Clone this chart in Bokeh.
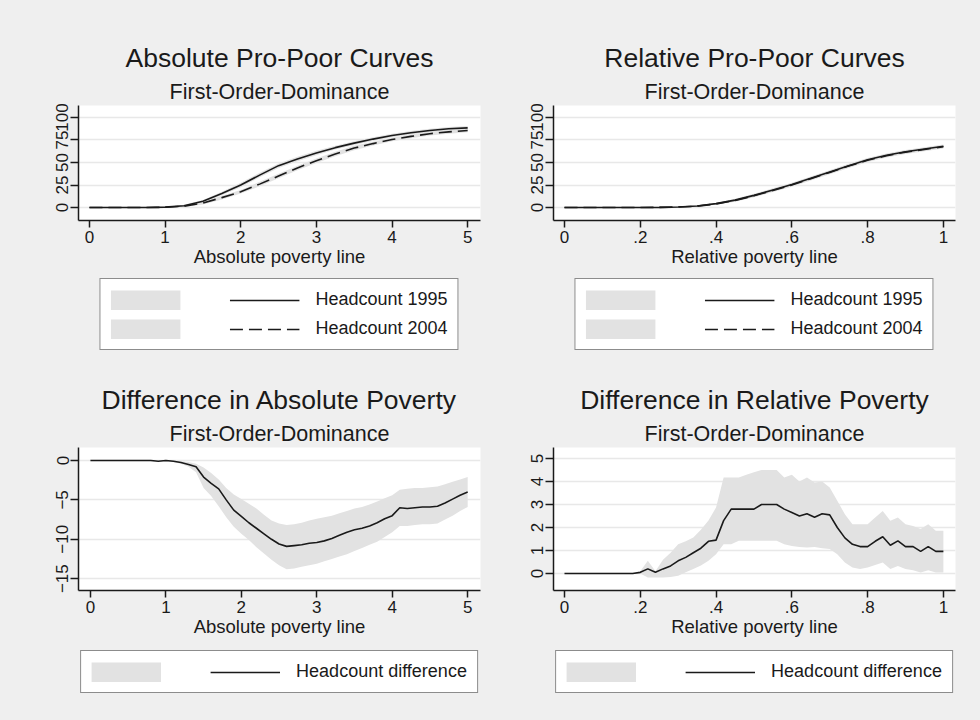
from bokeh.plotting import figure
from bokeh.models import Range1d, FixedTicker, Legend, LegendItem, Title
from bokeh.layouts import row, column
from bokeh.core.properties import value
from bokeh.embed import file_html
from bokeh.resources import INLINE
from jinja2 import Template

# ---------------- data ----------------
abs_x = [0.0, 0.25, 0.5, 0.75, 1.0, 1.25, 1.5, 1.75, 2.0, 2.25, 2.5, 2.75,
         3.0, 3.25, 3.5, 3.75, 4.0, 4.25, 4.5, 4.75, 5.0]
abs_hc1995 = [0, 0, 0, 0.1, 0.5, 2, 7, 15.5, 25, 36, 46.5, 54, 60.5, 66.5, 71.5, 76, 80, 83, 85.5, 87.5, 88.5]
abs_lo1995 = [0, 0, 0, 0, 0.2, 1, 5.5, 13.5, 22.5, 33.5, 44, 51.5, 58, 64.5, 69.5, 74, 78, 81, 83.5, 85.5, 86.5]
abs_hi1995 = [0, 0, 0, 0.2, 0.8, 3, 8.5, 17.5, 27.5, 38.5, 49, 56.5, 63, 68.5, 73.5, 78, 82, 85, 87.5, 89.5, 90.5]
abs_hc2004 = [0, 0, 0, 0, 0.3, 1.5, 5, 11, 17.5, 26, 35, 44, 52, 59.5, 66, 71, 75.5, 79, 82, 84, 85.5]
abs_lo2004 = [0, 0, 0, 0, 0.1, 0.7, 3.5, 9, 15.5, 23.5, 32.5, 41.5, 49.5, 57, 63.5, 69, 73.5, 77, 80, 82, 83.5]
abs_hi2004 = [0, 0, 0, 0.1, 0.5, 2.3, 6.5, 13, 19.5, 28.5, 37.5, 46.5, 54.5, 62, 68.5, 73, 77.5, 81, 84, 86, 87.5]

rel_x = [0.0, 0.05, 0.1, 0.15, 0.2, 0.25, 0.3, 0.35, 0.4, 0.45, 0.5, 0.55,
         0.6, 0.65, 0.7, 0.75, 0.8, 0.85, 0.9, 0.95, 1.0]
rel_hc1995 = [0, 0, 0, 0, 0, 0.2, 0.6, 1.7, 4.3, 8.2, 13.5, 19.5, 25.5, 32.5, 39.5, 46.5, 53, 58, 62, 65, 68]
rel_lo1995 = [0, 0, 0, 0, 0, 0.1, 0.4, 1.2, 3.3, 6.7, 11.8, 17.7, 23.5, 30.5, 37.5, 44.5, 51, 56, 60, 63, 66]
rel_hi1995 = [0, 0, 0, 0, 0, 0.3, 0.8, 2.2, 5.3, 9.7, 15.2, 21.3, 27.5, 34.5, 41.5, 48.5, 55, 60, 64, 67, 70]
rel_hc2004 = [0, 0, 0, 0, 0, 0.2, 0.5, 1.5, 4, 7.8, 13, 19, 25, 32, 39, 46, 52.5, 57.5, 61.5, 64.5, 67.5]
rel_lo2004 = [0, 0, 0, 0, 0, 0.1, 0.3, 1.0, 3.0, 6.3, 11.3, 17.2, 23, 30, 37, 44, 50.5, 55.5, 59.5, 62.5, 65.5]
rel_hi2004 = [0, 0, 0, 0, 0, 0.3, 0.8, 2.0, 5.0, 9.3, 14.7, 20.8, 27, 34, 41, 48, 54.5, 59.5, 63.5, 66.5, 69.5]

dabs_x = [0.0, 0.1, 0.2, 0.3, 0.4, 0.5, 0.6, 0.7, 0.8, 0.9, 1.0, 1.1, 1.2, 1.3, 1.4,
          1.5, 1.6, 1.7, 1.8, 1.9, 2.0, 2.1, 2.2, 2.3, 2.4, 2.5, 2.6, 2.7, 2.8, 2.9,
          3.0, 3.1, 3.2, 3.3, 3.4, 3.5, 3.6, 3.7, 3.8, 3.9, 4.0, 4.1, 4.2, 4.3, 4.4,
          4.5, 4.6, 4.7, 4.8, 4.9, 5.0]
dabs_diff = [0, 0, 0, 0, 0, 0, 0, 0, 0, -0.1, 0,
             -0.1, -0.25, -0.5, -0.8, -2.1, -2.9, -3.6, -5.0, -6.3, -7.1,
             -7.9, -8.6, -9.3, -10.0, -10.6, -10.9, -10.8, -10.7, -10.5, -10.4,
             -10.2, -9.9, -9.5, -9.1, -8.8, -8.6, -8.3, -7.9, -7.4, -7.0,
             -6.0, -6.1, -6.0, -5.9, -5.9, -5.8, -5.4, -4.9, -4.4, -4.0]
dabs_hi = [0, 0, 0, 0, 0, 0, 0, 0, 0, 0, 0,
           0.0, -0.1, -0.2, -0.4, -0.9, -1.6, -2.4, -3.5, -4.3, -4.9,
           -5.5, -6.1, -6.9, -7.6, -8.0, -8.2, -8.1, -7.9, -7.6, -7.4,
           -7.2, -7.0, -6.7, -6.4, -6.1, -5.9, -5.6, -5.2, -4.8, -4.4,
           -3.7, -3.6, -3.5, -3.5, -3.4, -3.3, -3.0, -2.7, -2.4, -2.1]
dabs_lo = [0, 0, 0, 0, 0, 0, 0, 0, 0, 0, -0.1,
           -0.2, -0.4, -0.8, -1.5, -3.5, -4.5, -5.8, -7.2, -8.4, -9.3,
           -10.1, -11.0, -11.8, -12.6, -13.3, -13.8, -13.7, -13.5, -13.3, -13.1,
           -12.8, -12.5, -12.2, -11.9, -11.5, -11.1, -10.7, -10.3, -9.7, -9.1,
           -8.3, -8.3, -8.2, -8.1, -8.1, -8.0, -7.5, -7.0, -6.4, -5.9]

drel_x = [0.0, 0.02, 0.04, 0.06, 0.08, 0.1, 0.12, 0.14, 0.16, 0.18, 0.2, 0.22,
          0.24, 0.26, 0.28, 0.3, 0.32, 0.34, 0.36, 0.38, 0.4, 0.42, 0.44, 0.46,
          0.48, 0.5, 0.52, 0.54, 0.56, 0.58, 0.6, 0.62, 0.64, 0.66, 0.68, 0.7,
          0.72, 0.74, 0.76, 0.78, 0.8, 0.82, 0.84, 0.86, 0.88, 0.9, 0.92, 0.94,
          0.96, 0.98, 1.0]
drel_diff = [0, 0, 0, 0, 0, 0, 0, 0, 0, 0,
             0.05, 0.2, 0.05, 0.2, 0.33, 0.55, 0.7, 0.9, 1.1, 1.4, 1.45,
             2.3, 2.8, 2.8, 2.8, 2.8, 3.0, 3.0, 3.0, 2.8, 2.65,
             2.5, 2.6, 2.45, 2.6, 2.55, 2.0, 1.55, 1.27, 1.17, 1.17,
             1.4, 1.6, 1.23, 1.42, 1.17, 1.17, 0.96, 1.17, 0.96, 0.96]
drel_hi = [0, 0, 0, 0, 0, 0, 0, 0, 0, 0,
           0.1, 0.55, 0.1, 0.6, 0.9, 1.27, 1.4, 1.57, 1.9, 2.3, 2.87,
           4.17, 4.17, 4.17, 4.3, 4.4, 4.5, 4.5, 4.5, 4.17, 4.3,
           4.0, 4.17, 3.96, 4.0, 3.74, 3.16, 2.58, 2.14, 2.14, 2.14,
           2.43, 2.72, 2.29, 2.43, 2.14, 2.07, 1.93, 2.14, 1.86, 1.86]
drel_lo = [0, 0, 0, 0, 0, 0, 0, 0, 0, 0,
           0, -0.17, -0.17, -0.17, -0.15, -0.1, 0.05, 0.19, 0.35, 0.55, 0.84,
           1.27, 1.27, 1.42, 1.42, 1.42, 1.42, 1.42, 1.42, 1.27, 1.2,
           1.15, 1.13, 1.15, 1.1, 1.06, 0.84, 0.48, 0.26, 0.19, 0.26,
           0.37, 0.48, 0.19, 0.33, 0.19, 0.14, 0.04, 0.14, 0.04, 0.04]

abs_ticks = [0, 1, 2, 3, 4, 5]
abs_tick_labels = ["0", "1", "2", "3", "4", "5"]
rel_ticks = [0, 0.2, 0.4, 0.6, 0.8, 1]
rel_tick_labels = ["0", ".2", ".4", ".6", ".8", "1"]
hc_yticks = [0, 25, 50, 75, 100]
dabs_yticks = [-15, -10, -5, 0]
drel_yticks = [0, 1, 2, 3, 4, 5]

# ---------------- style ----------------
FONT = "Liberation Sans"
BG = "#efefef"
BAND = "#e2e2e2"
GRID = "#e8e8e8"
INK = "#1a1a1a"
DASH = "13 6"


def make_fig(main, sub, xr, yr, xticks, xlabels, yticks, xlabel,
             height, mleft, mright, mtop, mbottom):
    p = figure(width=490, height=height, x_range=Range1d(*xr), y_range=Range1d(*yr),
               output_backend="svg", toolbar_location=None,
               min_border_left=mleft, min_border_right=mright,
               min_border_top=mtop, min_border_bottom=mbottom,
               border_fill_color=BG, background_fill_color="white",
               outline_line_color=None, title=main)
    p.title.align = "center"
    p.title.text_font = FONT
    p.title.text_font_size = "26.5px"
    p.title.text_font_style = "normal"
    p.title.text_color = INK
    p.title.standoff = 6
    p.add_layout(Title(text=sub, align="center", text_font=FONT, text_font_size="21.5px",
                       text_font_style="normal", text_color=INK, standoff=4), "above")
    for ax in (p.xaxis[0], p.yaxis[0]):
        ax.axis_line_color = INK
        ax.axis_line_width = 1.5
        ax.major_tick_line_color = INK
        ax.major_tick_line_width = 1.5
        ax.major_tick_in = 0
        ax.minor_tick_line_color = None
        ax.major_label_text_font = FONT
        ax.major_label_text_font_size = "17px"
        ax.major_label_text_color = INK
    p.xaxis.major_label_standoff = 3
    p.yaxis.major_label_standoff = 2
    p.xaxis.major_tick_out = 7
    p.yaxis.major_tick_out = 8
    p.xaxis.ticker = FixedTicker(ticks=xticks)
    p.xaxis.major_label_overrides = {t: s for t, s in zip(xticks, xlabels)}
    p.xaxis.axis_label = xlabel
    p.xaxis.axis_label_text_font = FONT
    p.xaxis.axis_label_text_font_size = "18.5px"
    p.xaxis.axis_label_text_font_style = "normal"
    p.xaxis.axis_label_text_color = INK
    p.xaxis.axis_label_standoff = 0
    p.yaxis.ticker = FixedTicker(ticks=yticks)
    p.yaxis.major_label_orientation = "vertical"
    p.xgrid.visible = False
    p.ygrid.ticker = FixedTicker(ticks=yticks)
    p.ygrid.grid_line_color = GRID
    p.ygrid.grid_line_width = 1.5
    return p


def make_legend_fig(height, mleft, mright, margin, entries):
    # legend keys reuse the series data, kept outside this panel's visible ranges
    q = figure(width=490, height=height, x_range=Range1d(100, 101), y_range=Range1d(100, 101),
               x_axis_type=None, y_axis_type=None,
               output_backend="svg", toolbar_location=None,
               min_border_left=mleft, min_border_right=mright,
               min_border_top=0, min_border_bottom=0,
               border_fill_color=BG, background_fill_color=BG,
               outline_line_color=None)
    items = []
    for lab, dash, xs, lo, hi, ys in entries:
        band_key = q.line(xs, hi, line_color=BAND, line_width=20, line_cap="butt")
        ln = q.line(xs, ys, line_color=INK, line_width=1.6, line_dash=dash)
        items.append(LegendItem(label=value(" "), renderers=[band_key]))
        items.append(LegendItem(label=value(lab), renderers=[ln]))
    leg = Legend(items=items, orientation="horizontal", ncols=2, location="top_center",
                 label_text_font=FONT, label_text_font_size="18px", label_text_color=INK,
                 glyph_width=70, glyph_height=20, label_height=20, label_width=25,
                 label_standoff=16, spacing=8, padding=10, margin=margin,
                 border_line_color=INK, border_line_width=1.7,
                 background_fill_color="white", background_fill_alpha=1.0)
    q.add_layout(leg, "center")
    return q


# top-left
p1 = make_fig("Absolute Pro-Poor Curves", "First-Order-Dominance", (-0.145, 5.17), (-14.4, 113.3),
              abs_ticks, abs_tick_labels, hc_yticks, "Absolute poverty line",
              272, 78, 10, 105, 52)
p1.varea(x=abs_x, y1=abs_lo1995, y2=abs_hi1995, fill_color=BAND)
p1.varea(x=abs_x, y1=abs_lo2004, y2=abs_hi2004, fill_color=BAND)
p1.line(abs_x, abs_hc1995, line_color=INK, line_width=1.6)
p1.line(abs_x, abs_hc2004, line_color=INK, line_width=1.6, line_dash=DASH)
g1 = make_legend_fig(98, 78, 10, 6, [
    ("Headcount 1995", "solid", abs_x, abs_lo1995, abs_hi1995, abs_hc1995),
    ("Headcount 2004", DASH, abs_x, abs_lo2004, abs_hi2004, abs_hc2004)])

# top-right
p2 = make_fig("Relative Pro-Poor Curves", "First-Order-Dominance", (-0.029, 1.032), (-14.4, 113.3),
              rel_ticks, rel_tick_labels, hc_yticks, "Relative poverty line",
              272, 63, 25, 105, 52)
p2.varea(x=rel_x, y1=rel_lo1995, y2=rel_hi1995, fill_color=BAND)
p2.varea(x=rel_x, y1=rel_lo2004, y2=rel_hi2004, fill_color=BAND)
p2.line(rel_x, rel_hc1995, line_color=INK, line_width=1.6)
p2.line(rel_x, rel_hc2004, line_color=INK, line_width=1.6, line_dash=DASH)
g2 = make_legend_fig(98, 63, 25, 6, [
    ("Headcount 1995", "solid", rel_x, rel_lo1995, rel_hi1995, rel_hc1995),
    ("Headcount 2004", DASH, rel_x, rel_lo2004, rel_hi2004, rel_hc2004)])

# bottom-left
p3 = make_fig("Difference in Absolute Poverty", "First-Order-Dominance", (-0.158, 5.17), (-16.5, 1.65),
              abs_ticks, abs_tick_labels, dabs_yticks, "Absolute poverty line",
              272, 78, 10, 77, 52)
p3.varea(x=dabs_x, y1=dabs_lo, y2=dabs_hi, fill_color=BAND)
p3.line(dabs_x, dabs_diff, line_color=INK, line_width=1.6)
g3 = make_legend_fig(78, 78, 10, 8, [
    ("Headcount difference", "solid", dabs_x, dabs_lo, dabs_hi, dabs_diff)])

# bottom-right
p4 = make_fig("Difference in Relative Poverty", "First-Order-Dominance", (-0.029, 1.032), (-0.74, 5.48),
              rel_ticks, rel_tick_labels, drel_yticks, "Relative poverty line",
              272, 63, 25, 77, 52)
p4.varea(x=drel_x, y1=drel_lo, y2=drel_hi, fill_color=BAND)
p4.line(drel_x, drel_diff, line_color=INK, line_width=1.6)
g4 = make_legend_fig(78, 63, 25, 8, [
    ("Headcount difference", "solid", drel_x, drel_lo, drel_hi, drel_diff)])

layout = column(row(column(p1, g1), column(p2, g2)),
                row(column(p3, g3), column(p4, g4)))

template = Template("""{% extends base %}
{% block preamble %}<style>html, body { background: #efefef; }</style>{% endblock %}""")

html = file_html(layout, INLINE, title="Pro-Poor Curves", template=template)
open("out.html", "w").write(html)
